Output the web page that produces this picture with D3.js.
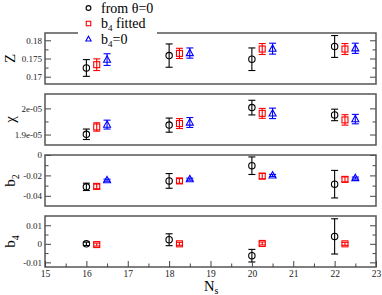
<!DOCTYPE html>
<html>
<head>
<meta charset="utf-8">
<script src="https://cdn.jsdelivr.net/npm/d3@7"></script>
<style>
  body { margin: 0; background: #fff; }
  svg { display: block; font-family: "Liberation Serif", "Times New Roman", serif; }
</style>
</head>
<body>
<div id="chart"></div>
<script>
// x positions of the three series (shifted copies of N_s)
const nsTheta = [16, 18, 20, 22];
const nsFit = [16.25, 18.25, 20.25, 22.25];
const nsZero = [16.5, 18.5, 20.5, 22.5];

// Z
const zTheta = [0.1724, 0.1758, 0.1748, 0.1783];
const zThetaErr = [0.0023, 0.0032, 0.0031, 0.0030];
const zFit = [0.1733, 0.1764, 0.1776, 0.1776];
const zFitErr = [0.0016, 0.0014, 0.0015, 0.0015];
const zZero = [0.1747, 0.1765, 0.1777, 0.1778];
const zZeroErr = [0.0016, 0.0014, 0.0015, 0.0014];

// chi
const chiTheta = [1.901e-5, 1.936e-5, 2.003e-5, 1.975e-5];
const chiThetaErr = [0.20e-6, 0.27e-6, 0.28e-6, 0.22e-6];
const chiFit = [1.929e-5, 1.942e-5, 1.981e-5, 1.956e-5];
const chiFitErr = [0.16e-6, 0.19e-6, 0.19e-6, 0.20e-6];
const chiZero = [1.938e-5, 1.946e-5, 1.981e-5, 1.959e-5];
const chiZeroErr = [0.17e-6, 0.19e-6, 0.20e-6, 0.18e-6];

// b2
const b2Theta = [-0.0312, -0.0254, -0.0105, -0.0286];
const b2ThetaErr = [0.0036, 0.0072, 0.0086, 0.0135];
const b2Fit = [-0.0308, -0.0254, -0.0207, -0.0239];
const b2FitErr = [0.0023, 0.0023, 0.0026, 0.0024];
const b2Zero = [-0.0247, -0.0237, -0.0200, -0.0226];
const b2ZeroErr = [0.0010, 0.0010, 0.0010, 0.0010];

// b4 (no b4=0 points)
const b4Theta = [0.0000, 0.0022, -0.0064, 0.0040];
const b4ThetaErr = [0.0009, 0.0032, 0.0034, 0.0095];
const b4Fit = [-0.0004, 0.0000, 0.0002, 0.0000];
const b4FitErr = [0.0008, 0.0008, 0.0008, 0.0008];

// axes
const xDomain = [15, 23];
const xMajor = [15, 16, 17, 18, 19, 20, 21, 22, 23];
const xMinor = [15.5, 16.5, 17.5, 18.5, 19.5, 20.5, 21.5, 22.5];
const zDomain = [0.168, 0.182];
const zMajor = [0.17, 0.175, 0.18];
const zLabels = ["0.17", "0.175", "0.18"];
const zMinor = [0.1725, 0.1775];
const chiDomain = [1.86e-5, 2.055e-5];
const chiMajor = [1.9e-5, 2e-5];
const chiLabels = ["1.9e-05", "2e-05"];
const chiMinor = [1.95e-5];
const b2Domain = [-0.05, 0];
const b2Major = [-0.04, -0.02, 0];
const b2Labels = ["-0.04", "-0.02", "0"];
const b2Minor = [-0.03, -0.01];
const b4Domain = [-0.0125, 0.015];
const b4Major = [-0.01, 0, 0.01];
const b4Labels = ["-0.01", "0", "0.01"];
const b4Minor = [-0.005, 0.005];

const seriesNames = ["from \u03b8=0", "b4 fitted", "b4=0"];
const colors = ["#000", "#f00", "#00f"];

const width = 382, height = 295;
const left = 45, right = 376, panelH = 51;
const tops = [33, 94, 155, 216];
const serif = "Liberation Serif, Times New Roman, serif";

const svg = d3.select("#chart").append("svg")
  .attr("width", width).attr("height", height);

const x = d3.scaleLinear().domain(xDomain).range([left, right]);

const panels = [
  { label: "Z", sub: null, domain: zDomain, major: zMajor, labels: zLabels, minor: zMinor,
    series: [[nsTheta, zTheta, zThetaErr], [nsFit, zFit, zFitErr], [nsZero, zZero, zZeroErr]] },
  { label: "\u03c7", sub: null, domain: chiDomain, major: chiMajor, labels: chiLabels, minor: chiMinor,
    series: [[nsTheta, chiTheta, chiThetaErr], [nsFit, chiFit, chiFitErr], [nsZero, chiZero, chiZeroErr]] },
  { label: "b", sub: "2", domain: b2Domain, major: b2Major, labels: b2Labels, minor: b2Minor,
    series: [[nsTheta, b2Theta, b2ThetaErr], [nsFit, b2Fit, b2FitErr], [nsZero, b2Zero, b2ZeroErr]] },
  { label: "b", sub: "4", domain: b4Domain, major: b4Major, labels: b4Labels, minor: b4Minor,
    series: [[nsTheta, b4Theta, b4ThetaErr], [nsFit, b4Fit, b4FitErr]] }
];

// hollow marker: 0 circle, 1 square, 2 triangle; k scales the size
function symbol(g, type, cx, cy, color, k = 1) {
  if (type === 0) {
    g.append("circle").attr("cx", cx).attr("cy", cy).attr("r", 3.2 * k)
      .attr("fill", "none").attr("stroke", color).attr("stroke-width", 1.1);
  } else if (type === 1) {
    g.append("rect").attr("x", cx - 3 * k).attr("y", cy - 3 * k).attr("width", 6 * k).attr("height", 6 * k)
      .attr("fill", "none").attr("stroke", color).attr("stroke-width", 1.1);
  } else {
    g.append("path").attr("d", `M${cx},${cy - 3.8 * k}L${cx + 3.5 * k},${cy + 2.6 * k}L${cx - 3.5 * k},${cy + 2.6 * k}Z`)
      .attr("fill", "none").attr("stroke", color).attr("stroke-width", 1.1);
  }
}

function styleAxis(a, size) {
  a.select(".domain").remove();
  a.selectAll("line").attr("stroke", "#444");
  a.selectAll("text").attr("font-size", size).attr("font-family", serif).attr("fill", "#222");
}

panels.forEach((p, i) => {
  const top = tops[i], bottom = top + panelH;
  const y = d3.scaleLinear().domain(p.domain).range([bottom, top]);
  const g = svg.append("g");

  // inward ticks, left and right
  g.append("g").attr("transform", `translate(${left},0)`)
    .call(d3.axisLeft(y).tickValues(p.major).tickSize(-6).tickPadding(3)
      .tickFormat((d, k) => p.labels[k]))
    .call(a => styleAxis(a, 9));
  g.append("g").attr("transform", `translate(${left},0)`)
    .call(d3.axisLeft(y).tickValues(p.minor).tickSize(-3.5).tickFormat(""))
    .call(a => styleAxis(a, 9));
  g.append("g").attr("transform", `translate(${right},0)`)
    .call(d3.axisRight(y).tickValues(p.major).tickSize(-6).tickFormat(""))
    .call(a => styleAxis(a, 9));
  g.append("g").attr("transform", `translate(${right},0)`)
    .call(d3.axisRight(y).tickValues(p.minor).tickSize(-3.5).tickFormat(""))
    .call(a => styleAxis(a, 9));

  g.append("rect").attr("x", left).attr("y", top)
    .attr("width", right - left).attr("height", panelH)
    .attr("fill", "none").attr("stroke", "#555").attr("stroke-width", 1.5);

  // y label
  const lab = g.append("text")
    .attr("transform", `translate(15,${(top + bottom) / 2}) rotate(-90)`)
    .attr("text-anchor", "middle").attr("font-size", 15).attr("fill", "#000");
  lab.append("tspan").text(p.label);
  if (p.sub) lab.append("tspan").attr("dy", 4).attr("font-size", 10).text(p.sub);

  // error bars + symbols
  p.series.forEach(([xs, vals, errs], s) => {
    const c = colors[s];
    const sg = g.append("g");
    vals.forEach((v, k) => {
      const cx = x(xs[k]);
      const y0 = y(v - errs[k]), y1 = y(v + errs[k]);
      sg.append("line").attr("x1", cx).attr("x2", cx).attr("y1", y0).attr("y2", y1)
        .attr("stroke", c).attr("stroke-width", 1.1);
      [y0, y1].forEach(yy => sg.append("line")
        .attr("x1", cx - 3.5).attr("x2", cx + 3.5).attr("y1", yy).attr("y2", yy)
        .attr("stroke", c).attr("stroke-width", 1.1));
      symbol(sg, s, cx, y(v), c);
    });
  });

  if (i === panels.length - 1) {
    g.append("g").attr("transform", `translate(0,${bottom})`)
      .call(d3.axisBottom(x).tickValues(xMajor).tickSize(-6).tickPadding(3).tickFormat(d3.format("d")))
      .call(a => styleAxis(a, 9.5));
    g.append("g").attr("transform", `translate(0,${bottom})`)
      .call(d3.axisBottom(x).tickValues(xMinor).tickSize(-3.5).tickFormat(""))
      .call(a => styleAxis(a, 9.5));
  }
});

// x label
const xl = svg.append("text").attr("x", 204).attr("y", 291).attr("font-size", 14.5);
xl.append("tspan").text("N");
xl.append("tspan").attr("dy", 3).attr("font-size", 10).text("s");

// legend, covering the top frame line of the first panel
const leg = svg.append("g");
leg.append("rect").attr("x", 78).attr("y", 0).attr("width", 79).attr("height", 48).attr("fill", "#fff");
seriesNames.forEach((name, s) => {
  const cy = 8 + s * 15.5;
  symbol(leg, s, 88.5, cy, colors[s], 0.75);
  const t = leg.append("text").attr("x", 101).attr("y", cy + 4.5).attr("font-size", 14);
  if (s === 0) {
    t.text(name);
  } else {
    t.append("tspan").text("b");
    t.append("tspan").attr("dy", 3).attr("font-size", 9).text("4");
    t.append("tspan").attr("dy", -3).text(s === 1 ? " fitted" : "=0");
  }
});
</script>
</body>
</html>
